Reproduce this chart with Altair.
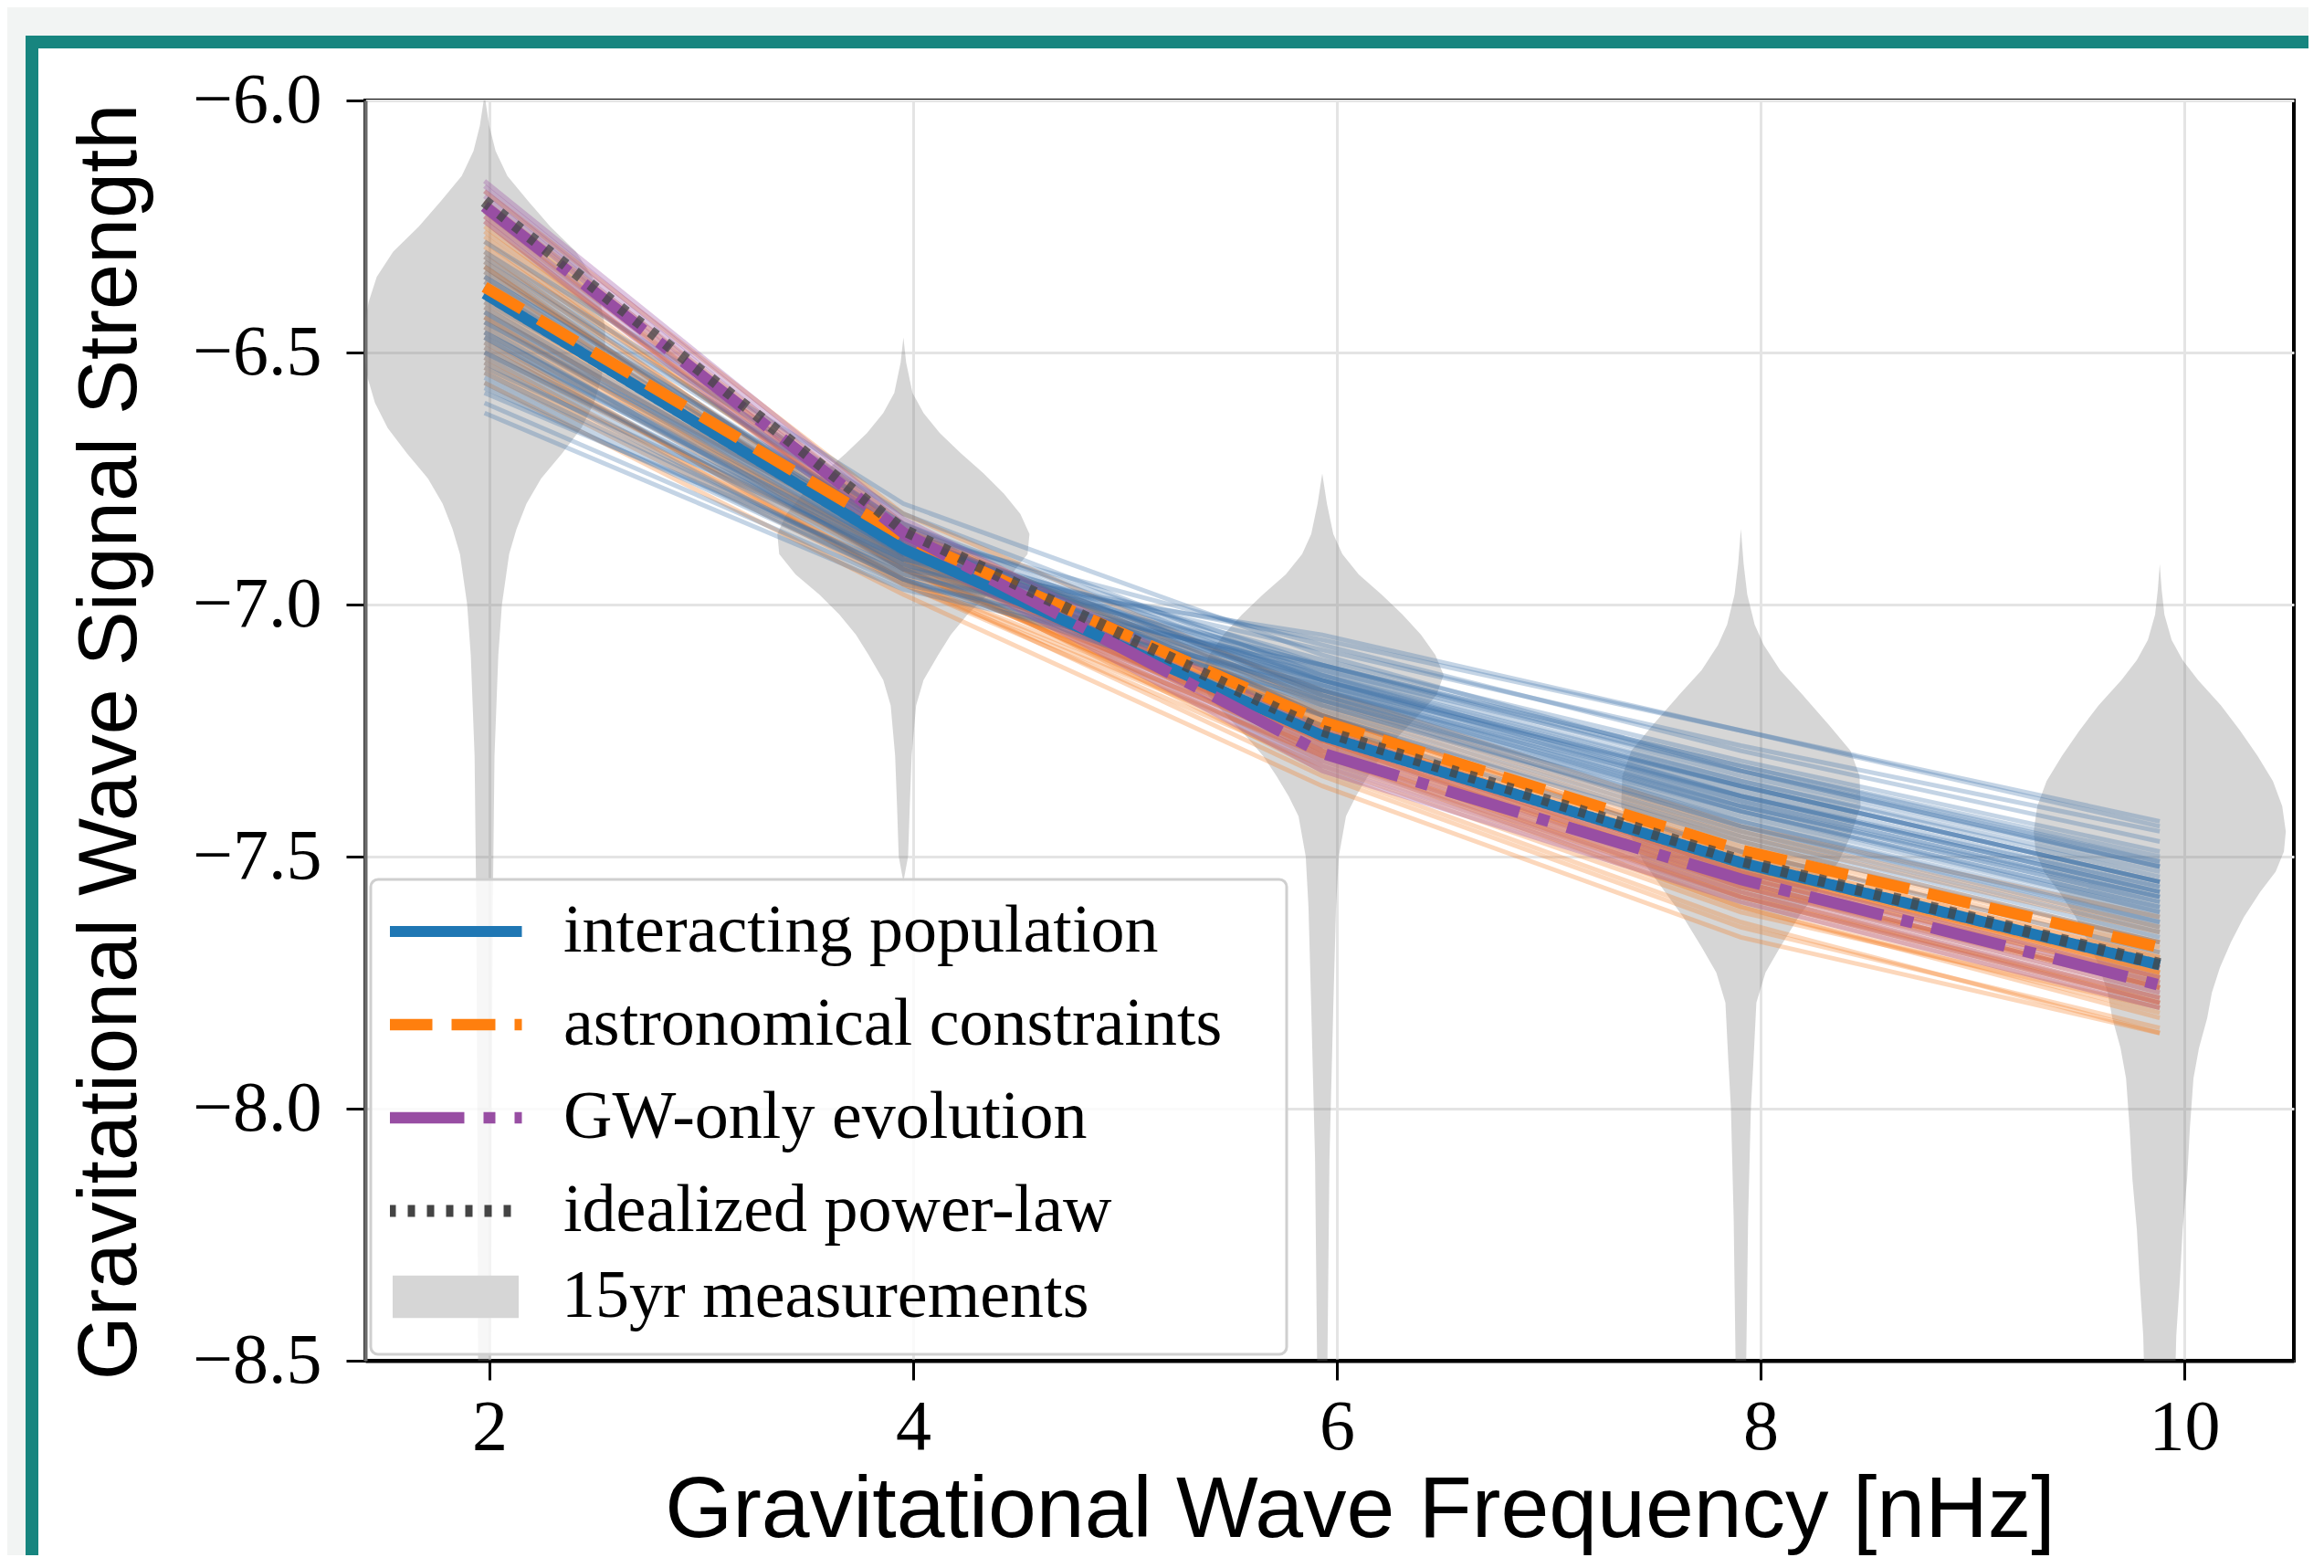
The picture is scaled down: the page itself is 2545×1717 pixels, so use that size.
import altair as alt
import pandas as pd

# ---------------- data ----------------
freqs = [1.977, 3.954, 5.931, 7.907, 9.884]

line_names = ["interacting population", "astronomical constraints",
              "GW-only evolution", "idealized power-law"]
measure_name = "15yr measurements"
interacting = [-6.383, -6.89, -7.26, -7.512, -7.715]
astro = [-6.370, -6.865, -7.232, -7.487, -7.680]
gw_only = [-6.210, -6.858, -7.295, -7.545, -7.755]
power_law = [-6.200, -6.852, -7.250, -7.508, -7.713]

blue_samples = [
    [-6.28, -6.80, -7.10, -7.33, -7.52], [-6.30, -6.82, -7.14, -7.38, -7.57],
    [-6.32, -6.84, -7.18, -7.43, -7.63], [-6.33, -6.86, -7.22, -7.47, -7.67],
    [-6.35, -6.85, -7.12, -7.34, -7.52], [-6.36, -6.87, -7.16, -7.40, -7.58],
    [-6.38, -6.88, -7.20, -7.44, -7.64], [-6.40, -6.86, -7.08, -7.29, -7.47],
    [-6.41, -6.89, -7.14, -7.36, -7.55], [-6.43, -6.90, -7.19, -7.42, -7.61],
    [-6.44, -6.88, -7.11, -7.31, -7.49], [-6.46, -6.91, -7.16, -7.38, -7.56],
    [-6.48, -6.90, -7.09, -7.28, -7.45], [-6.49, -6.92, -7.14, -7.35, -7.53],
    [-6.51, -6.93, -7.18, -7.40, -7.59], [-6.53, -6.91, -7.07, -7.25, -7.43],
    [-6.54, -6.94, -7.13, -7.33, -7.51], [-6.56, -6.95, -7.17, -7.38, -7.57],
    [-6.58, -6.93, -7.06, -7.25, -7.44], [-6.60, -6.96, -7.12, -7.32, -7.50],
    [-6.62, -6.97, -7.16, -7.36, -7.55], [-6.37, -6.89, -7.26, -7.52, -7.72],
    [-6.45, -6.93, -7.24, -7.49, -7.69], [-6.52, -6.95, -7.22, -7.46, -7.66],
    [-6.34, -6.86, -7.17, -7.41, -7.60], [-6.37, -6.87, -7.15, -7.38, -7.57],
    [-6.39, -6.88, -7.17, -7.40, -7.59], [-6.42, -6.89, -7.15, -7.37, -7.56],
    [-6.44, -6.90, -7.18, -7.41, -7.60], [-6.47, -6.91, -7.15, -7.36, -7.55],
    [-6.50, -6.92, -7.17, -7.39, -7.58], [-6.39, -6.87, -7.13, -7.35, -7.54],
    [-6.47, -6.92, -7.20, -7.43, -7.62], [-6.55, -6.94, -7.15, -7.36, -7.55],
    [-6.31, -6.84, -7.15, -7.39, -7.58], [-6.42, -6.90, -7.21, -7.45, -7.65],
    [-6.50, -6.91, -7.12, -7.32, -7.51], [-6.57, -6.95, -7.19, -7.41, -7.61],
    [-6.35, -6.86, -7.19, -7.44, -7.63], [-6.46, -6.90, -7.12, -7.33, -7.52],
]
orange_samples = [
    [-6.18, -6.82, -7.18, -7.45, -7.64], [-6.20, -6.84, -7.22, -7.50, -7.70],
    [-6.22, -6.86, -7.26, -7.55, -7.76], [-6.24, -6.88, -7.30, -7.60, -7.82],
    [-6.26, -6.85, -7.20, -7.47, -7.67], [-6.28, -6.87, -7.24, -7.52, -7.73],
    [-6.30, -6.89, -7.28, -7.57, -7.79], [-6.32, -6.91, -7.33, -7.63, -7.85],
    [-6.34, -6.86, -7.19, -7.46, -7.65], [-6.36, -6.88, -7.23, -7.51, -7.71],
    [-6.38, -6.90, -7.27, -7.55, -7.76], [-6.40, -6.92, -7.31, -7.60, -7.81],
    [-6.42, -6.89, -7.21, -7.48, -7.67], [-6.44, -6.91, -7.25, -7.53, -7.73],
    [-6.46, -6.93, -7.29, -7.57, -7.78], [-6.48, -6.95, -7.34, -7.64, -7.84],
    [-6.50, -6.92, -7.22, -7.49, -7.68], [-6.52, -6.94, -7.26, -7.54, -7.74],
    [-6.54, -6.96, -7.30, -7.58, -7.79], [-6.56, -6.98, -7.36, -7.66, -7.85],
    [-6.29, -6.86, -7.17, -7.44, -7.62], [-6.35, -6.90, -7.25, -7.53, -7.72],
    [-6.41, -6.93, -7.27, -7.56, -7.75], [-6.47, -6.96, -7.32, -7.61, -7.80],
    [-6.25, -6.86, -7.23, -7.51, -7.71], [-6.27, -6.87, -7.25, -7.53, -7.74],
    [-6.31, -6.88, -7.24, -7.52, -7.72], [-6.33, -6.89, -7.26, -7.54, -7.75],
    [-6.37, -6.89, -7.24, -7.52, -7.72], [-6.39, -6.91, -7.27, -7.55, -7.76],
    [-6.43, -6.91, -7.25, -7.53, -7.73], [-6.45, -6.92, -7.27, -7.56, -7.76],
    [-6.49, -6.93, -7.26, -7.54, -7.74], [-6.53, -6.95, -7.28, -7.56, -7.77],
    [-6.23, -6.85, -7.22, -7.49, -7.69], [-6.33, -6.90, -7.29, -7.58, -7.78],
    [-6.43, -6.93, -7.29, -7.58, -7.79], [-6.51, -6.95, -7.30, -7.59, -7.80],
    [-6.21, -6.85, -7.24, -7.52, -7.73], [-6.39, -6.89, -7.22, -7.50, -7.70],
]
purple_samples = [
    [-6.16, -6.83, -7.25, -7.51, -7.72], [-6.17, -6.84, -7.27, -7.53, -7.74],
    [-6.18, -6.85, -7.28, -7.54, -7.75], [-6.19, -6.86, -7.29, -7.55, -7.76],
    [-6.20, -6.87, -7.30, -7.56, -7.77], [-6.22, -6.87, -7.31, -7.57, -7.78],
    [-6.23, -6.88, -7.32, -7.58, -7.79], [-6.24, -6.89, -7.33, -7.59, -7.80],
]

# violin profiles: levels (log10 strength) and half widths (nHz)
violin_levels = [
    [-6.00, -6.05, -6.10, -6.15, -6.20, -6.25, -6.30, -6.35, -6.40, -6.45, -6.50, -6.55, -6.60,
     -6.65, -6.70, -6.75, -6.80, -6.85, -6.90, -7.00, -7.10, -7.30, -7.60, -8.00, -8.60],
    [-6.47, -6.52, -6.58, -6.62, -6.66, -6.70, -6.74, -6.78, -6.82, -6.86, -6.90, -6.94, -6.98,
     -7.02, -7.06, -7.10, -7.15, -7.20, -7.30, -7.40, -7.50, -7.55],
    [-6.74, -6.80, -6.86, -6.90, -6.94, -6.98, -7.02, -7.06, -7.10, -7.14, -7.18, -7.22, -7.26,
     -7.30, -7.34, -7.38, -7.42, -7.50, -7.60, -7.80, -8.10, -8.60],
    [-6.85, -6.92, -6.98, -7.04, -7.08, -7.13, -7.18, -7.24, -7.29, -7.34, -7.40, -7.46, -7.51,
     -7.57, -7.62, -7.68, -7.73, -7.79, -7.90, -8.00, -8.22, -8.60],
    [-6.92, -6.97, -7.02, -7.07, -7.11, -7.15, -7.20, -7.25, -7.30, -7.35, -7.40, -7.45, -7.49,
     -7.53, -7.57, -7.62, -7.67, -7.72, -7.77, -7.82, -7.88, -7.94, -8.04, -8.14, -8.24, -8.34,
     -8.45, -8.60],
]
violin_halfwidths = [
    [0.004, 0.022, 0.052, 0.108, 0.207, 0.310, 0.431, 0.509, 0.547, 0.569, 0.569, 0.552, 0.517,
     0.457, 0.366, 0.267, 0.198, 0.151, 0.116, 0.082, 0.065, 0.047, 0.039, 0.034, 0.030],
    [0.0, 0.013, 0.043, 0.095, 0.172, 0.272, 0.379, 0.474, 0.552, 0.595, 0.586, 0.509, 0.397,
     0.302, 0.224, 0.164, 0.095, 0.060, 0.039, 0.030, 0.022, 0.0],
    [0.0, 0.022, 0.052, 0.095, 0.172, 0.280, 0.379, 0.466, 0.534, 0.573, 0.539, 0.453, 0.362,
     0.280, 0.216, 0.159, 0.112, 0.078, 0.065, 0.052, 0.034, 0.022],
    [0.0, 0.013, 0.030, 0.065, 0.108, 0.185, 0.293, 0.418, 0.517, 0.560, 0.565, 0.517, 0.461,
     0.358, 0.272, 0.185, 0.116, 0.073, 0.060, 0.047, 0.034, 0.022],
    [0.0, 0.009, 0.022, 0.056, 0.108, 0.181, 0.289, 0.379, 0.461, 0.534, 0.578, 0.595, 0.586,
     0.547, 0.474, 0.397, 0.336, 0.284, 0.246, 0.224, 0.185, 0.159, 0.142, 0.129, 0.108, 0.095,
     0.078, 0.069],
]

x_ticks = [2, 4, 6, 8, 10]
y_ticks = [-6.0, -6.5, -7.0, -7.5, -8.0, -8.5]

# ---------------- tables ----------------
main_rows = []
for name, vals in zip(line_names, [interacting, astro, gw_only, power_law]):
    for f, v in zip(freqs, vals):
        main_rows.append({"series": name, "f": f, "y": v})
main_df = pd.DataFrame(main_rows)

samp_rows = []
for grp, lines in [("orange", orange_samples), ("blue", blue_samples), ("purple", purple_samples)]:
    for i, vals in enumerate(lines):
        for f, v in zip(freqs, vals):
            samp_rows.append({"grp": grp, "sid": f"{grp}{i}", "f": f, "y": v})
samp_df = pd.DataFrame(samp_rows)

# violin outlines as closed polygons: left edge downwards, right edge back up
vio_rows = []
for vid, (c, lv, hw) in enumerate(zip(freqs, violin_levels, violin_halfwidths)):
    n = len(lv)
    for k in range(n):
        vio_rows.append({"vid": vid, "p": k, "level": lv[k], "xv": c - hw[k]})
    for k in range(n - 1, -1, -1):
        vio_rows.append({"vid": vid, "p": 2 * n - 1 - k, "level": lv[k], "xv": c + hw[k]})
vio_df = pd.DataFrame(vio_rows)

one = pd.DataFrame({"kind": [measure_name]})

# ---------------- scales / axes ----------------
xscale = alt.Scale(domain=[1.414, 10.517], nice=False, zero=False)
yscale = alt.Scale(domain=[-8.5, -6.0], nice=False, zero=False)
xaxis = alt.Axis(values=x_ticks, format="d", title="Gravitational Wave Frequency [nHz]")
yaxis = alt.Axis(values=y_ticks, format=".1f", title="Gravitational Wave Signal Strength")

colors = ["#1f77b4", "#ff7f0e", "#984ea3", "#444444"]
dashes = [[1, 0], [48, 21], [83, 21, 13, 21], [8, 13]]
widths = [12, 13, 13, 8]

legA = alt.Legend(title=None, orient="none", legendX=6, legendY=853)
legB = alt.Legend(title=None, orient="none", legendX=9, legendY=1253, labelOffset=47,
                  symbolOpacity=1, symbolFillColor="#d6d6d6", symbolStrokeWidth=0)

# ---------------- layers ----------------
outer = alt.Chart(one).mark_rect(fillOpacity=0, stroke="#f2f4f3", strokeWidth=60).encode(
    x=alt.value(-402), x2=alt.value(3000), y=alt.value(-101), y2=alt.value(3000))
frame = alt.Chart(one).mark_rect(fillOpacity=0, stroke="#17857f", strokeWidth=14).encode(
    x=alt.value(-365), x2=alt.value(3000), y=alt.value(-64), y2=alt.value(3000))

violins = alt.Chart(vio_df).mark_line(
    clip=True, fill="#808080", fillOpacity=0.32, strokeOpacity=0, strokeWidth=0
).encode(
    x=alt.X("xv:Q", scale=xscale, axis=xaxis),
    y=alt.Y("level:Q", scale=yscale, axis=yaxis),
    detail="vid:N",
    order=alt.Order("p:Q"),
)

def samples(grp, color, op):
    return alt.Chart(samp_df).transform_filter(alt.datum.grp == grp).mark_line(
        color=color, opacity=op, strokeWidth=5).encode(
        x=alt.X("f:Q", scale=xscale, axis=xaxis),
        y=alt.Y("y:Q", scale=yscale, axis=yaxis),
        detail="sid:N")

def main_line(name, op=1.0):
    return alt.Chart(main_df).transform_filter(alt.datum.series == name).mark_line(
        strokeCap="butt", opacity=op).encode(
        x=alt.X("f:Q", scale=xscale, axis=xaxis),
        y=alt.Y("y:Q", scale=yscale, axis=yaxis),
        color=alt.Color("series:N", scale=alt.Scale(domain=line_names, range=colors), legend=legA),
        strokeDash=alt.StrokeDash("series:N", scale=alt.Scale(domain=line_names, range=dashes),
                                  legend=legA),
        strokeWidth=alt.StrokeWidth("series:N", scale=alt.Scale(domain=line_names, range=widths),
                                    legend=legA),
    )

# legend key for the violins (invisible mark, only drives the legend entry)
measure_key = alt.Chart(one).mark_point(opacity=0, filled=True, color="#d6d6d6").encode(
    shape=alt.Shape("kind:N", scale=alt.Scale(domain=[measure_name],
                                              range=["M-1,-0.32H1V0.32H-1Z"]), legend=legB),
)

# legend frame (drawn above the data, below the legend entries)
legend_box = alt.Chart(one).mark_rect(
    fill="white", fillOpacity=0.8, stroke="#cfcfcf", strokeWidth=3, cornerRadius=8
).encode(x=alt.value(6), x2=alt.value(1009), y=alt.value(853), y2=alt.value(1373))

chart = alt.layer(
    outer, frame, violins,
    samples("orange", "#f57a1e", 0.3),
    samples("blue", "#3a70a8", 0.3),
    samples("purple", "#984ea3", 0.32),
    main_line(line_names[0]), main_line(line_names[1]),
    main_line(line_names[2]), main_line(line_names[3], 0.75),
    legend_box, measure_key,
).resolve_legend(shape="independent").properties(
    width=2112, height=1380,
    padding={"left": 392, "top": 102, "right": 16, "bottom": 213},
    autosize=alt.AutoSizeParams(type="none"),
    background="white",
).configure_view(
    stroke="black", strokeWidth=4, fill="white"
).configure_axis(
    labelFont="Liberation Serif", labelFontSize=78, labelColor="black",
    tickColor="black", tickSize=21, tickWidth=3,
    gridColor="#e4e4e4", gridWidth=3,
    domainColor="black", domainWidth=4,
    titleFont="Liberation Sans", titleFontWeight="normal", titleColor="black",
).configure_axisX(
    labelPadding=13, titleFontSize=95, titleX=1089, titleY=192,
    titleBaseline="alphabetic", titleAlign="center",
).configure_axisY(
    labelPadding=27, titleFontSize=90, titleX=-252, titleY=702,
    titleBaseline="alphabetic", titleAlign="center", titleAngle=270,
    domainColor="#6b6b6b",
).configure_legend(
    symbolType="stroke", symbolSize=21316, symbolOffset=-8,
    clipHeight=72,
    labelFont="Liberation Serif", labelFontSize=74, labelColor="black",
    labelOffset=39, labelLimit=2000, rowPadding=28, padding=21,
    fillColor="transparent", strokeColor="transparent",
)

chart.save("out.html", embed_options={"renderer": "svg", "actions": False})
